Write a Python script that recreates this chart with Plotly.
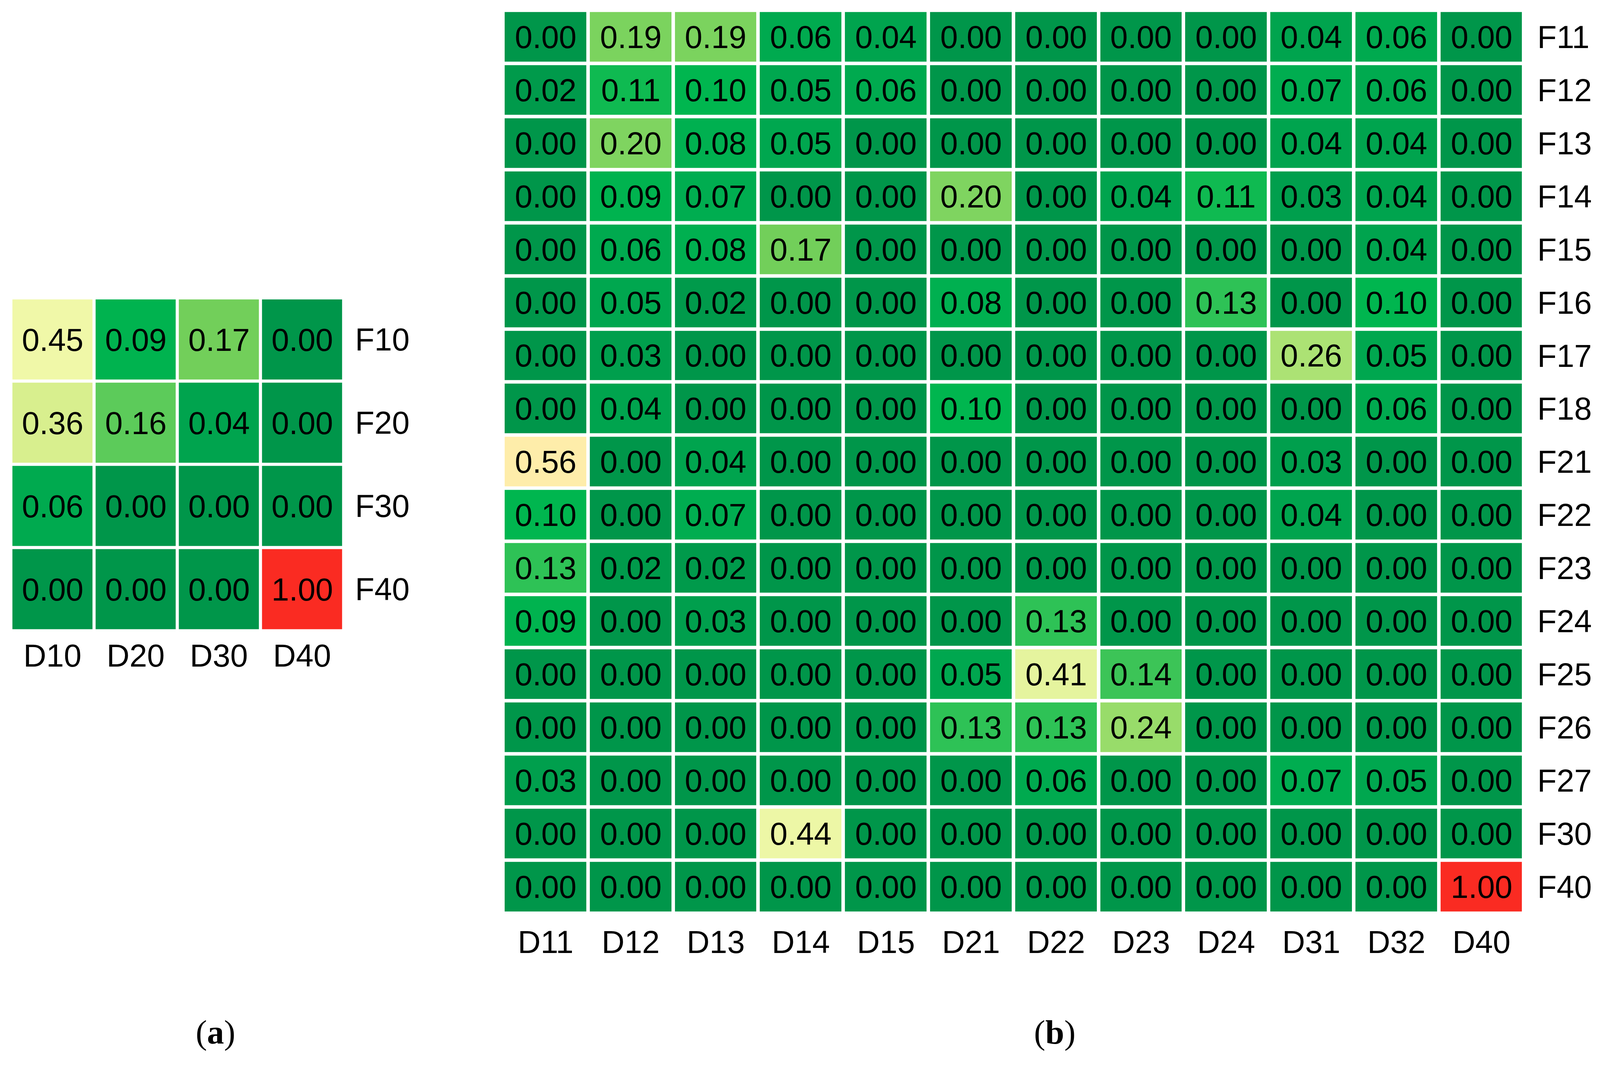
import plotly.graph_objects as go

# ---------- data ----------
cols_a = ["D10", "D20", "D30", "D40"]
rows_a = ["F10", "F20", "F30", "F40"]
vals_a = [
    [0.45, 0.09, 0.17, 0.00],
    [0.36, 0.16, 0.04, 0.00],
    [0.06, 0.00, 0.00, 0.00],
    [0.00, 0.00, 0.00, 1.00],
]

cols_b = ["D11", "D12", "D13", "D14", "D15", "D21", "D22", "D23", "D24", "D31", "D32", "D40"]
rows_b = ["F11", "F12", "F13", "F14", "F15", "F16", "F17", "F18",
          "F21", "F22", "F23", "F24", "F25", "F26", "F27", "F30", "F40"]
vals_b = [
    [0.00, 0.19, 0.19, 0.06, 0.04, 0.00, 0.00, 0.00, 0.00, 0.04, 0.06, 0.00],
    [0.02, 0.11, 0.10, 0.05, 0.06, 0.00, 0.00, 0.00, 0.00, 0.07, 0.06, 0.00],
    [0.00, 0.20, 0.08, 0.05, 0.00, 0.00, 0.00, 0.00, 0.00, 0.04, 0.04, 0.00],
    [0.00, 0.09, 0.07, 0.00, 0.00, 0.20, 0.00, 0.04, 0.11, 0.03, 0.04, 0.00],
    [0.00, 0.06, 0.08, 0.17, 0.00, 0.00, 0.00, 0.00, 0.00, 0.00, 0.04, 0.00],
    [0.00, 0.05, 0.02, 0.00, 0.00, 0.08, 0.00, 0.00, 0.13, 0.00, 0.10, 0.00],
    [0.00, 0.03, 0.00, 0.00, 0.00, 0.00, 0.00, 0.00, 0.00, 0.26, 0.05, 0.00],
    [0.00, 0.04, 0.00, 0.00, 0.00, 0.10, 0.00, 0.00, 0.00, 0.00, 0.06, 0.00],
    [0.56, 0.00, 0.04, 0.00, 0.00, 0.00, 0.00, 0.00, 0.00, 0.03, 0.00, 0.00],
    [0.10, 0.00, 0.07, 0.00, 0.00, 0.00, 0.00, 0.00, 0.00, 0.04, 0.00, 0.00],
    [0.13, 0.02, 0.02, 0.00, 0.00, 0.00, 0.00, 0.00, 0.00, 0.00, 0.00, 0.00],
    [0.09, 0.00, 0.03, 0.00, 0.00, 0.00, 0.13, 0.00, 0.00, 0.00, 0.00, 0.00],
    [0.00, 0.00, 0.00, 0.00, 0.00, 0.05, 0.41, 0.14, 0.00, 0.00, 0.00, 0.00],
    [0.00, 0.00, 0.00, 0.00, 0.00, 0.13, 0.13, 0.24, 0.00, 0.00, 0.00, 0.00],
    [0.03, 0.00, 0.00, 0.00, 0.00, 0.00, 0.06, 0.00, 0.00, 0.07, 0.05, 0.00],
    [0.00, 0.00, 0.00, 0.44, 0.00, 0.00, 0.00, 0.00, 0.00, 0.00, 0.00, 0.00],
    [0.00, 0.00, 0.00, 0.00, 0.00, 0.00, 0.00, 0.00, 0.00, 0.00, 0.00, 1.00],
]

captions = ["(<b>a</b>)", "(<b>b</b>)"]

# ---------- style ----------
colorscale = [
    [0.00, "#00964A"],
    [0.02, "#009A4B"],
    [0.04, "#00A44E"],
    [0.07, "#00AD50"],
    [0.10, "#00B64F"],
    [0.13, "#2EC256"],
    [0.14, "#3CC457"],
    [0.16, "#5CCB5A"],
    [0.17, "#72CF5A"],
    [0.19, "#7BD35E"],
    [0.20, "#7FD460"],
    [0.24, "#98DC6A"],
    [0.26, "#ACE274"],
    [0.36, "#D8EF8E"],
    [0.41, "#E5F49E"],
    [0.45, "#F0F8A8"],
    [0.56, "#FEEDAA"],
    [1.00, "#FA2B22"],
]

W, H = 4100, 2700
OFF = 8             # default page body margin
SX, SY = 0.9907, 0.9887   # fit the visible area of the page
FONT = "Liberation Sans, Arial, sans-serif"
FS = 81


def px_x(p):
    return (p * SX - OFF) / W


def px_y(p):
    return 1 - (p * SY - OFF) / H


fig = go.Figure()

fig.add_trace(go.Heatmap(
    z=vals_a, x=cols_a, y=rows_a,
    zmin=0, zmax=1, colorscale=colorscale, showscale=False,
    xgap=8, ygap=8,
    texttemplate="%{z:.2f}",
    textfont=dict(family=FONT, size=FS, color="black"),
    xaxis="x", yaxis="y",
))

fig.add_trace(go.Heatmap(
    z=vals_b, x=cols_b, y=rows_b,
    zmin=0, zmax=1, colorscale=colorscale, showscale=False,
    xgap=9, ygap=9,
    texttemplate="%{z:.2f}",
    textfont=dict(family=FONT, size=FS, color="black"),
    xaxis="x2", yaxis="y2",
))

axis_common = dict(
    showgrid=False, zeroline=False, showline=False,
    tickfont=dict(family=FONT, size=FS, color="black"),
    type="category",
)

fig.update_layout(
    width=W, height=H,
    margin=dict(l=0, r=0, t=0, b=0),
    paper_bgcolor="white", plot_bgcolor="white",
    xaxis=dict(domain=[px_x(28), px_x(888)], anchor="y", side="bottom",
               ticks="", ticklabelstandoff=9, **axis_common),
    yaxis=dict(domain=[px_y(1633), px_y(771)], anchor="x", side="right",
               autorange="reversed", ticks="outside", ticklen=12,
               tickcolor="rgba(0,0,0,0)", **axis_common),
    xaxis2=dict(domain=[px_x(1300), px_x(3938)], anchor="y2", side="bottom",
                ticks="outside", ticklen=4, tickcolor="rgba(0,0,0,0)", **axis_common),
    yaxis2=dict(domain=[px_y(2364), px_y(27)], anchor="x2", side="right",
                autorange="reversed", ticks="outside", ticklen=17,
                tickcolor="rgba(0,0,0,0)", **axis_common),
)

for cap, cx in zip(captions, [557, 2725]):
    fig.add_annotation(
        text=cap, xref="paper", yref="paper",
        x=px_x(cx), y=px_y(2672), xanchor="center", yanchor="middle",
        showarrow=False,
        font=dict(family="Liberation Serif, Times New Roman, serif", size=87, color="black"),
    )

fig.write_html("out.html")
